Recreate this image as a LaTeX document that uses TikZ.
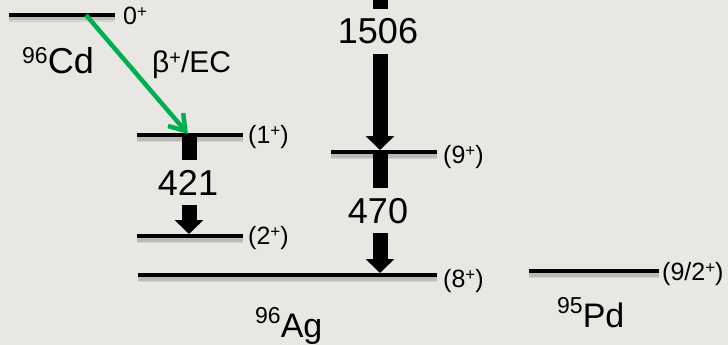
\documentclass[tikz,border=0pt]{standalone}
\usepackage{fontspec}
\setmainfont{Liberation Sans}
\usetikzlibrary{arrows.meta}
\definecolor{bg}{RGB}{233,231,228}
\definecolor{betagreen}{RGB}{0,176,80}
\newcommand\spplus[2]{\raisebox{#2}{\fontsize{#1}{#1}\selectfont +}}
\newcommand\spnum[3]{\raisebox{#2}{\fontsize{#1}{#1}\selectfont #3}}
\begin{document}
\begin{tikzpicture}[x=1pt,y=-1pt,
  lvl/.style={line width=4pt, black,
    preaction={draw=black, opacity=0.08, line width=8pt, transform canvas={yshift=-3pt}},
    preaction={draw=black, opacity=0.12, line width=5pt, transform canvas={yshift=-3pt}}},
  gammaarrow/.style={line width=15pt, black, -{Triangle[width=28pt,length=14pt]}},
  betaarrow/.style={line width=4.5pt, betagreen, -{Straight Barb[length=15pt,width=20pt]}},
  small/.style={font=\fontsize{25}{27}\selectfont, inner sep=0pt},
  big/.style={font=\fontsize{36}{40}\selectfont},
  energy/.style={big, fill=bg, inner xsep=2pt, inner ysep=10pt},
  nuc/.style={inner sep=0pt}
]
\fill[bg] (0,0) rectangle (728,345);
\useasboundingbox (0,0) rectangle (728,345);

% level coordinates
\coordinate (cd0L) at (9,15);   \coordinate (cd0R) at (115,15);
\coordinate (ag1L) at (137,135); \coordinate (ag1R) at (243,135);
\coordinate (ag2L) at (137,236); \coordinate (ag2R) at (243,236);
\coordinate (ag9L) at (331,152); \coordinate (ag9R) at (437,152);
\coordinate (ag8L) at (138,275); \coordinate (ag8R) at (437,275);
\coordinate (pdL) at (529,271);  \coordinate (pdR) at (659,271);

% gamma arrow end points
\coordinate (g421s) at (189,135); \coordinate (g421e) at (189,234);
\coordinate (g1506s) at (380,-5); \coordinate (g1506e) at (380,150);
\coordinate (g470s) at (380,152); \coordinate (g470e) at (380,273);
\coordinate (bs) at (86,15); \coordinate (be) at (188,134);

% gamma arrows
\draw[gammaarrow] (g421s) -- (g421e);
\draw[gammaarrow] (g1506s) -- (g1506e);
\draw[gammaarrow] (g470s) -- (g470e);

% levels
\draw[lvl] (cd0L) -- (cd0R);
\draw[lvl] (ag1L) -- (ag1R);
\draw[lvl] (ag2L) -- (ag2R);
\draw[lvl] (ag9L) -- (ag9R);
\draw[lvl] (ag8L) -- (ag8R);
\draw[lvl] (pdL) -- (pdR);

% beta decay
\draw[betaarrow] (bs) -- (be);

% energies
\node[energy, anchor=base] (t421) at (188,195) {421};
\node[energy, anchor=base] (t1506) at (378,44) {1506};
\node[energy, anchor=base] (t470) at (378,223) {470};

% spin labels
\node[small, anchor=base west] (t0) at (123,25) {0\spplus{17}{7pt}};
\node[small, anchor=base west] (t1) at (248,143) {(1\spplus{17}{7pt})};
\node[small, anchor=base west] (t2) at (248,244) {(2\spplus{17}{7pt})};
\node[small, anchor=base west] (t9) at (443,163) {(9\spplus{17}{7pt})};
\node[small, anchor=base west] (t8) at (443,287) {(8\spplus{17}{7pt})};
\node[small, anchor=base west] (t92) at (662,280) {(9/2\spplus{17}{7pt})};

% beta label
\node[nuc, anchor=base west, font=\fontsize{30}{32}\selectfont] (tbeta) at (152,73) {β\spplus{20}{8.5pt}/EC};

% nuclei
\node[nuc, anchor=base west, font=\fontsize{36}{40}\selectfont] (tcd) at (22,74) {\spnum{23}{10.5pt}{96}Cd};
\node[nuc, anchor=base west, font=\fontsize{34}{36}\selectfont] (tag) at (255,337) {\spnum{23}{14pt}{96}Ag};
\node[nuc, anchor=base west, font=\fontsize{34}{36}\selectfont] (tpd) at (557,327) {\spnum{23}{14pt}{95}Pd};
\end{tikzpicture}
\end{document}
